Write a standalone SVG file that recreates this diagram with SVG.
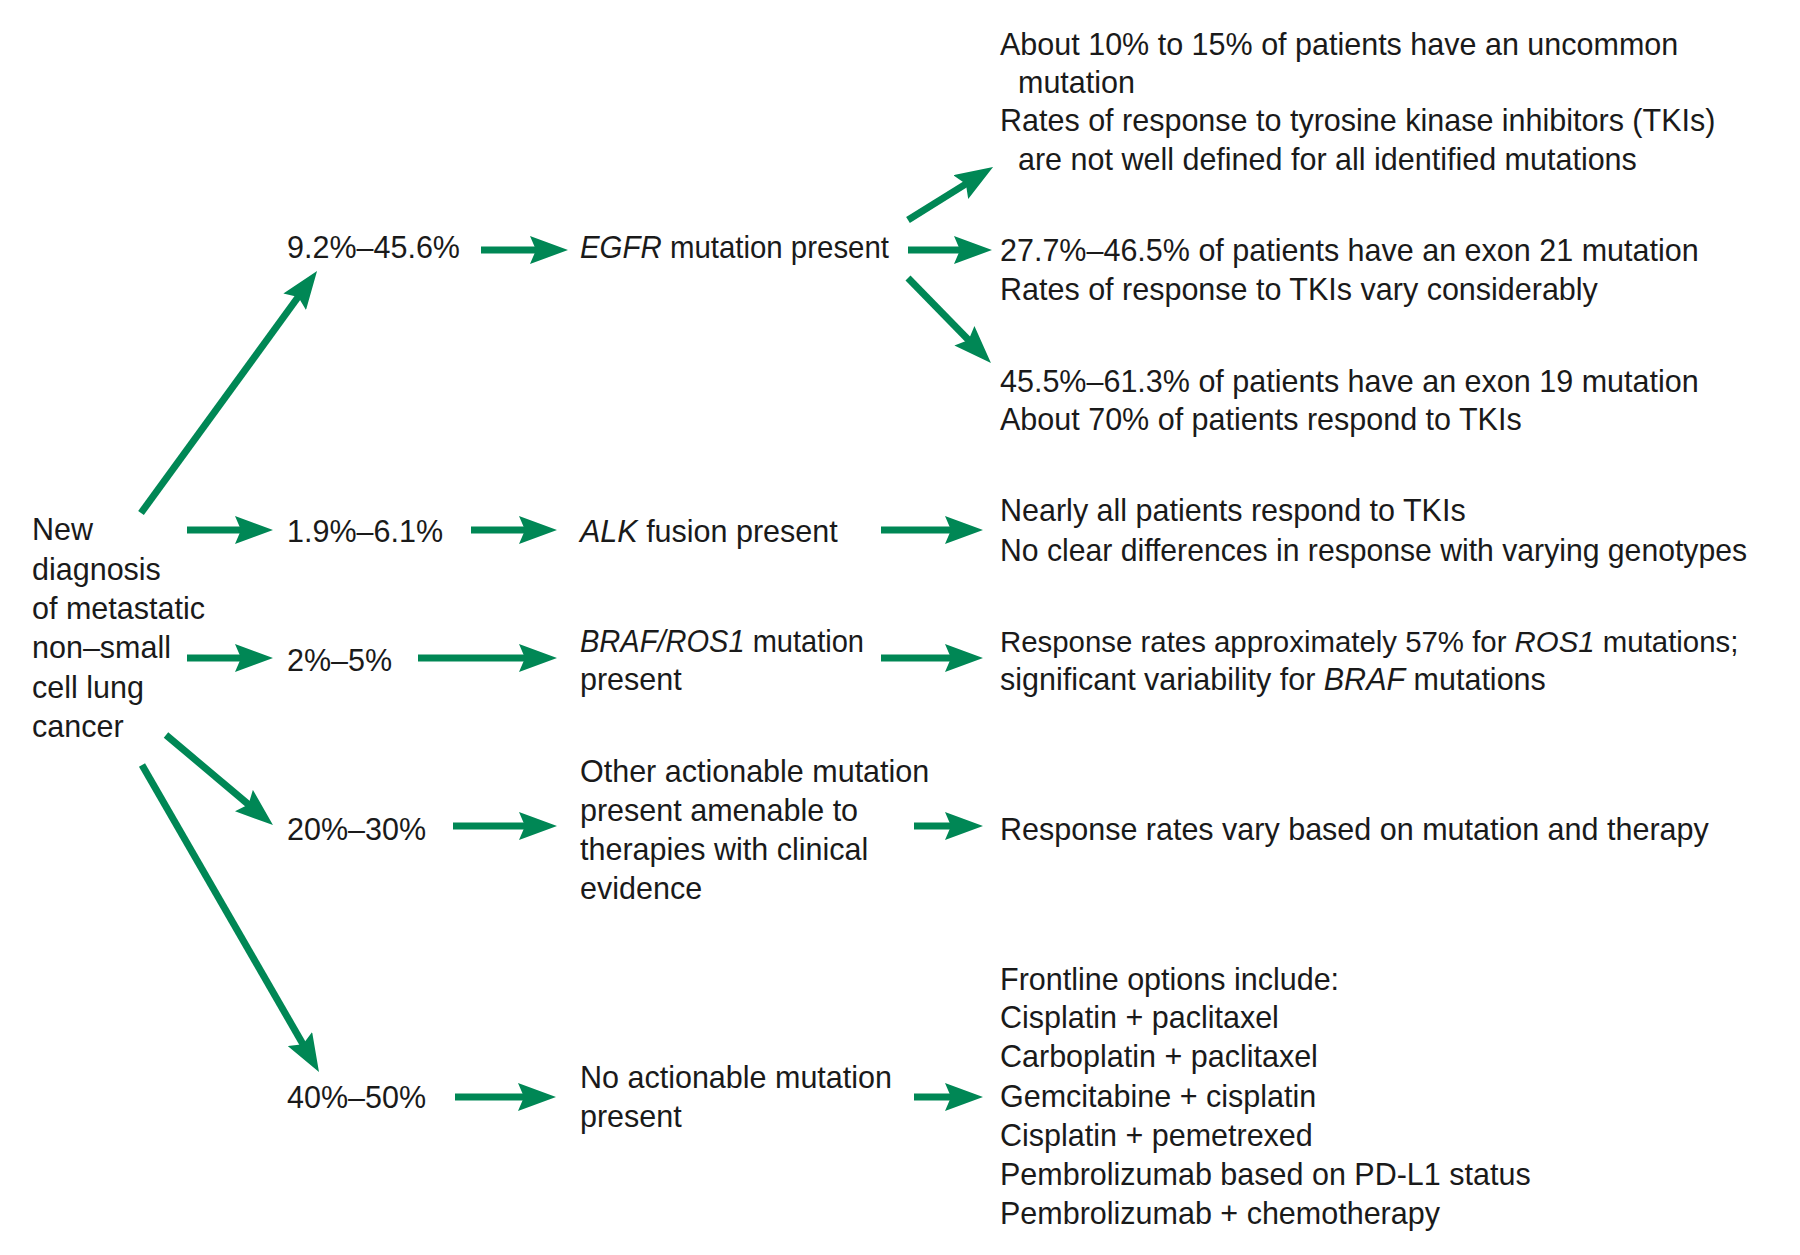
<svg xmlns="http://www.w3.org/2000/svg" width="1800" height="1255" viewBox="0 0 1800 1255">
<style>
text{font-family:"Liberation Sans",Arial,sans-serif;font-size:30.5px;fill:#1a1a1a}
.i{font-style:italic}
.c{stroke:#008755;stroke-width:7;fill:none;marker-end:url(#ah)}
</style>
<defs>
<marker id="ah" viewBox="0 0 38 28" refX="8" refY="14" markerWidth="38" markerHeight="28" markerUnits="userSpaceOnUse" orient="auto">
<path d="M0,0 L38,14 L0,28 L6,14 Z" fill="#008755"/>
</marker>
</defs>
<rect width="1800" height="1255" fill="#fff"/>
<g id="connectors">
<line class="c" x1="141" y1="513" x2="299.4" y2="295.3"/>
<line class="c" x1="187" y1="530" x2="243" y2="530"/>
<line class="c" x1="187" y1="658" x2="243" y2="658"/>
<line class="c" x1="166" y1="735" x2="250" y2="805.7"/>
<line class="c" x1="142" y1="765" x2="304" y2="1046"/>
<line class="c" x1="481" y1="250" x2="538" y2="250"/>
<line class="c" x1="471" y1="530" x2="527" y2="530"/>
<line class="c" x1="418" y1="658" x2="527" y2="658"/>
<line class="c" x1="453" y1="826" x2="527" y2="826"/>
<line class="c" x1="455" y1="1097" x2="526" y2="1097"/>
<line class="c" x1="908" y1="220" x2="967.6" y2="182.9"/>
<line class="c" x1="908" y1="250" x2="962" y2="250"/>
<line class="c" x1="908" y1="278" x2="970" y2="341.5"/>
<line class="c" x1="881" y1="530" x2="953" y2="530"/>
<line class="c" x1="881" y1="658" x2="953" y2="658"/>
<line class="c" x1="914" y1="826" x2="953" y2="826"/>
<line class="c" x1="914" y1="1097" x2="953" y2="1097"/>
</g>
<g id="start">
<text x="32" y="540">New</text>
<text x="32" y="579.5">diagnosis</text>
<text x="32" y="619">of metastatic</text>
<text x="32" y="658">non–small</text>
<text x="32" y="698">cell lung</text>
<text x="32" y="737">cancer</text>
</g>
<g id="pct-egfr"><text x="287" y="258">9.2%–45.6%</text></g>
<g id="pct-alk"><text x="287" y="542">1.9%–6.1%</text></g>
<g id="pct-braf"><text x="287" y="671">2%–5%</text></g>
<g id="pct-other"><text x="287" y="840">20%–30%</text></g>
<g id="pct-none"><text x="287" y="1108">40%–50%</text></g>
<g id="egfr"><text x="580" y="258" textLength="309" lengthAdjust="spacingAndGlyphs"><tspan class="i">EGFR</tspan> mutation present</text></g>
<g id="alk"><text x="580" y="542"><tspan class="i">ALK</tspan> fusion present</text></g>
<g id="braf">
<text x="580" y="652" textLength="284" lengthAdjust="spacingAndGlyphs"><tspan class="i">BRAF/ROS1</tspan> mutation</text>
<text x="580" y="690">present</text>
</g>
<g id="other">
<text x="580" y="782">Other actionable mutation</text>
<text x="580" y="821">present amenable to</text>
<text x="580" y="860">therapies with clinical</text>
<text x="580" y="899">evidence</text>
</g>
<g id="none">
<text x="580" y="1088">No actionable mutation</text>
<text x="580" y="1127">present</text>
</g>
<g id="egfr-uncommon">
<text x="1000" y="55">About 10% to 15% of patients have an uncommon</text>
<text x="1018" y="93">mutation</text>
<text x="1000" y="131">Rates of response to tyrosine kinase inhibitors (TKIs)</text>
<text x="1018" y="170">are not well defined for all identified mutations</text>
</g>
<g id="egfr-exon21">
<text x="1000" y="261">27.7%–46.5% of patients have an exon 21 mutation</text>
<text x="1000" y="300">Rates of response to TKIs vary considerably</text>
</g>
<g id="egfr-exon19">
<text x="1000" y="392">45.5%–61.3% of patients have an exon 19 mutation</text>
<text x="1000" y="430">About 70% of patients respond to TKIs</text>
</g>
<g id="alk-response">
<text x="1000" y="521">Nearly all patients respond to TKIs</text>
<text x="1000" y="560.5" textLength="747" lengthAdjust="spacingAndGlyphs">No clear differences in response with varying genotypes</text>
</g>
<g id="braf-response">
<text x="1000" y="652" style="font-size:29.4px">Response rates approximately 57% for <tspan class="i">ROS1</tspan> mutations;</text>
<text x="1000" y="690">significant variability for <tspan class="i">BRAF</tspan> mutations</text>
</g>
<g id="other-response"><text x="1000" y="840">Response rates vary based on mutation and therapy</text></g>
<g id="frontline">
<text x="1000" y="990">Frontline options include:</text>
<text x="1000" y="1028">Cisplatin + paclitaxel</text>
<text x="1000" y="1067">Carboplatin + paclitaxel</text>
<text x="1000" y="1107">Gemcitabine + cisplatin</text>
<text x="1000" y="1146">Cisplatin + pemetrexed</text>
<text x="1000" y="1185">Pembrolizumab based on PD-L1 status</text>
<text x="1000" y="1224">Pembrolizumab + chemotherapy</text>
</g>
</svg>
